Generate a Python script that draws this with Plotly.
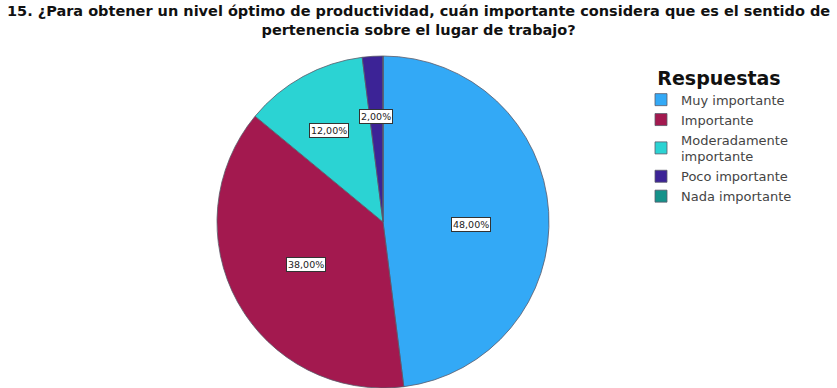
import math
import plotly.graph_objects as go

categories = ["Muy importante", "Importante", "Moderadamente<br>importante", "Poco importante", "Nada importante"]
values = [48.0, 38.0, 12.0, 2.0, 0.0]
value_labels = ["48,00%", "38,00%", "12,00%", "2,00%", ""]
colors = ["#33A9F6", "#A3194F", "#2BD3D3", "#3C2396", "#15928A"]

title_lines = ["15. ¿Para obtener un nivel óptimo de productividad, cuán importante considera que es el sentido de",
               "pertenencia sobre el lugar de trabajo?"]

W, H = 837, 388
cx, cy = 383, 222
R = 166

fig = go.Figure()
fig.add_trace(go.Pie(
    labels=categories, values=values, sort=False, direction="clockwise", rotation=0,
    marker=dict(colors=colors, line=dict(color="#5a5a6a", width=0.8)),
    textinfo="none", hoverinfo="label+percent",
    domain=dict(x=[(cx - R) / W, (cx + R) / W], y=[(H - cy - R) / H, (H - cy + R) / H]),
    showlegend=True,
))

# value labels placed at each slice's mid-angle
total = sum(values)
cum = 0.0
for v, lab in zip(values, value_labels):
    if v <= 0:
        cum += v
        continue
    mid = (cum + v / 2) / total * 2 * math.pi
    cum += v
    frac = 0.53 if v > 20 else 0.68
    px = cx + frac * R * math.sin(mid)
    py = cy - frac * R * math.cos(mid) + (8 if v > 20 else 0)
    fig.add_annotation(
        x=px / W, y=1 - py / H, xref="paper", yref="paper", text=lab, showarrow=False,
        font=dict(family="DejaVu Sans", size=9.5, color="#222222"),
        bgcolor="white", bordercolor="#333333", borderwidth=1, borderpad=1,
    )

# title (two centred lines)
fig.add_annotation(
    x=0.5, y=1 - 1 / H, xref="paper", yref="paper", xanchor="center", yanchor="top",
    text="<b>" + "<br>".join(title_lines) + "</b>", showarrow=False, align="center",
    font=dict(family="DejaVu Sans", size=14.5, color="#111111"),
)

fig.update_layout(
    width=W, height=H, margin=dict(l=0, r=0, t=0, b=0),
    paper_bgcolor="white", plot_bgcolor="white",
    legend=dict(
        x=641 / W, y=1 - 60 / H, xanchor="left", yanchor="top",
        title=dict(text="<b>Respuestas</b>", side="top center",
                   font=dict(family="DejaVu Sans", size=19, color="#111111")),
        font=dict(family="DejaVu Sans", size=13, color="#444444"),
        itemwidth=30, tracegroupgap=0, bgcolor="rgba(0,0,0,0)",
    ),
)

fig.write_html("out.html")
